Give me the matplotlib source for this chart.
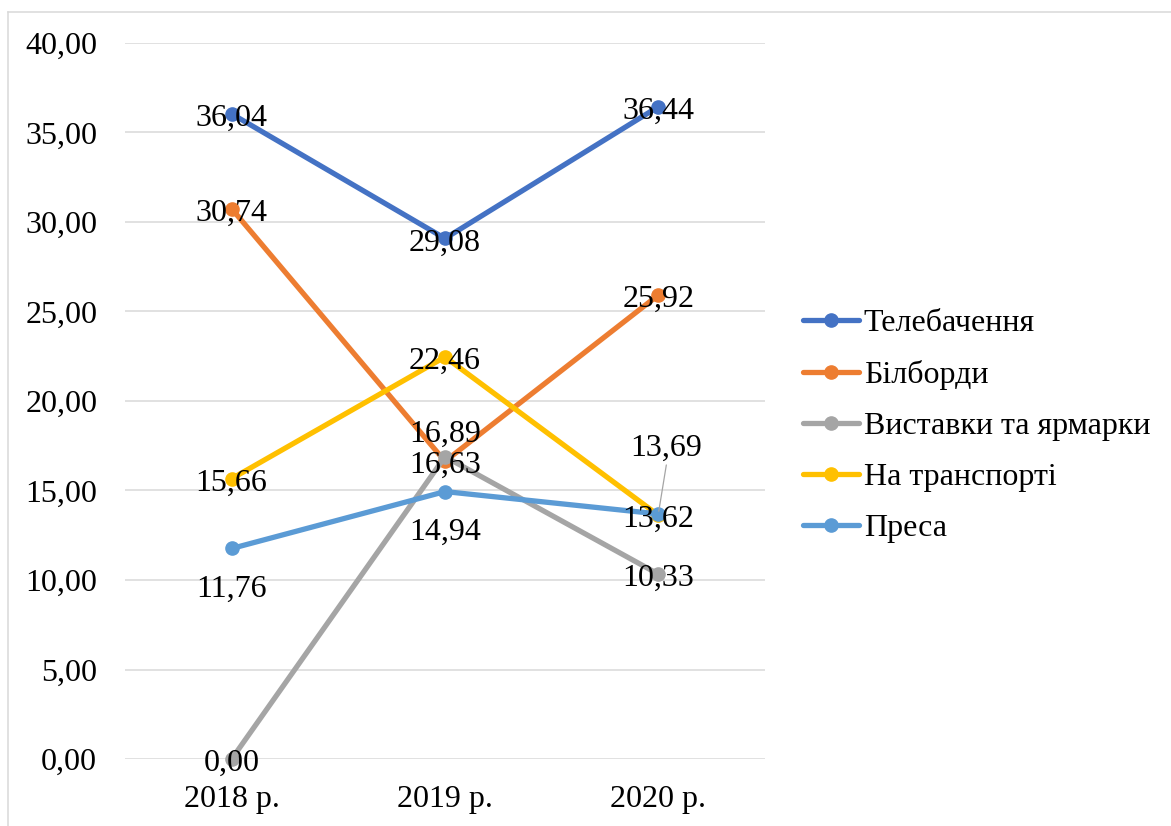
import matplotlib
matplotlib.use("Agg")
import matplotlib.pyplot as plt
from matplotlib.lines import Line2D

plt.rcParams['font.family'] = ['Liberation Serif', 'DejaVu Serif']

# ---- data ----
years = ["2018 р.", "2019 р.", "2020 р."]
tv = [36.04, 29.08, 36.44]
billboards = [30.74, 16.63, 25.92]
fairs = [0.00, 16.89, 10.33]
transport = [15.66, 22.46, 13.62]
press = [11.76, 14.94, 13.69]

series_names = ["Телебачення", "Білборди", "Виставки та ярмарки", "На транспорті", "Преса"]
series_values = [tv, billboards, fairs, transport, press]
colors = ["#4472C4", "#ED7D31", "#A5A5A5", "#FFC000", "#5B9BD5"]
y_ticks = [0, 5, 10, 15, 20, 25, 30, 35, 40]

FS = 23


def fmt(v):
    return f"{v:.2f}".replace(".", ",")


W, H, DPI = 1171, 826, 100
fig = plt.figure(figsize=(W / DPI, H / DPI), dpi=DPI)
px = 72.0 / DPI  # points per pixel

ax = fig.add_axes([125 / W, (H - 759) / H, 640 / W, 716 / H])
ax.set_xlim(-0.5, 2.5)
ax.set_ylim(0, 40)

xs = list(range(len(years)))
for name, vals, c in zip(series_names, series_values, colors):
    ax.plot(xs, vals, color=c, lw=3.8, marker="o", markersize=9.5,
            solid_capstyle="round", solid_joinstyle="round", label=name,
            zorder=3, clip_on=False)

# gridlines and axes styling
ax.set_yticks(y_ticks)
ax.set_yticklabels([fmt(v) for v in y_ticks])
ax.set_xticks(xs)
ax.set_xticklabels(years)
ax.grid(axis="y", color="#D9D9D9", lw=1.1, zorder=0)
ax.set_axisbelow(True)
for s in ax.spines.values():
    s.set_visible(False)
ax.tick_params(axis="both", length=0, labelsize=FS, colors="black")
ax.tick_params(axis="y", pad=20)
ax.tick_params(axis="x", pad=19)

# data labels: baseline offsets in pixels (center / below / above placements)
CENTER, BELOW, ABOVE = 12, 48, -15
label_offsets = {
    "Телебачення": [(0, CENTER), (0, CENTER), (0, CENTER)],
    "Білборди": [(0, CENTER), (0, CENTER), (0, CENTER)],
    "Виставки та ярмарки": [(0, CENTER), (0, ABOVE), (0, CENTER)],
    "На транспорті": [(0, CENTER), (0, CENTER), (0, CENTER)],
    "Преса": [(0, BELOW), (0, BELOW), (8, -58)],
}
for name, vals in zip(series_names, series_values):
    for i, v in enumerate(vals):
        dx, dy = label_offsets[name][i]
        ax.annotate(fmt(v), xy=(i, v), xytext=(dx * px, -dy * px),
                    textcoords="offset points", ha="center", va="baseline",
                    fontsize=FS, color="black", zorder=6, annotation_clip=False)

# leader line from the moved label back to its point
ax.annotate("", xy=(2, press[2]), xytext=(8 * px, 49 * px),
            textcoords="offset points",
            arrowprops=dict(arrowstyle="-", color="#A5A5A5", lw=0.9,
                            shrinkA=0, shrinkB=2), zorder=5)

# legend
leg = fig.legend(loc="center left", bbox_to_anchor=(803 / W, (H - 426) / H),
                 frameon=False, fontsize=FS, handlelength=1.75,
                 handletextpad=0.15, labelspacing=0.68, borderpad=0,
                 borderaxespad=0)

# chart frame (top and left edges)
fig.add_artist(Line2D([8 / W, 1.0], [1 - 12 / H, 1 - 12 / H],
                      transform=fig.transFigure, color="#D9D9D9", lw=1.1))
fig.add_artist(Line2D([8 / W, 8 / W], [0, 1 - 12 / H],
                      transform=fig.transFigure, color="#D9D9D9", lw=1.1))

fig.savefig("out.png", dpi=DPI)
